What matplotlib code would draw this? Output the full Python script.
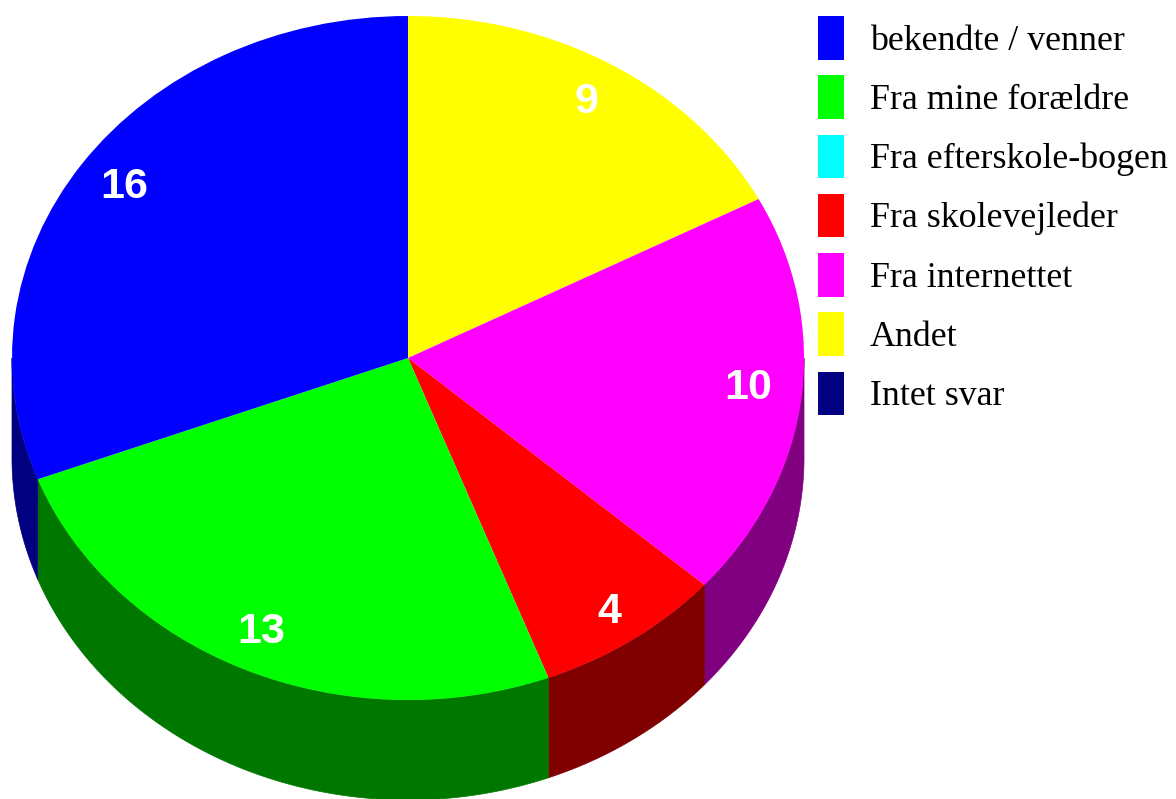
import numpy as np
import matplotlib
matplotlib.use('Agg')
import matplotlib.pyplot as plt
from matplotlib.patches import Patch

# order as the slices run clockwise from 12 o'clock
slice_names = ['Andet', 'Fra internettet', 'Fra skolevejleder', 'Fra efterskole-bogen',
               'Fra mine forældre', 'bekendte / venner', 'Intet svar']
slice_values = [9, 10, 4, 0, 13, 16, 0]
slice_colors = ['#ffff00', '#ff00ff', '#ff0000', '#00ffff', '#00ff00', '#0000ff', '#000080']
side_colors = ['#808000', '#800080', '#800000', '#008080', '#007800', '#000080', '#000040']

legend_names = ['bekendte / venner', 'Fra mine forældre', 'Fra efterskole-bogen',
                'Fra skolevejleder', 'Fra internettet', 'Andet', 'Intet svar']

# small nudges of the value labels, in pixels
label_nudge = [(-1, 0), (-4, 6), (4, -8), (0, 0), (-5, -1), (1, 1), (0, 0)]

W, H = 1176, 799
cx, cy = 408, 358
rx, ry = 396, 342
depth = 100 / ry

fig = plt.figure(figsize=(W / 100, H / 100), dpi=100)
ax = fig.add_axes([0, 0, 1, 1])

total = sum(slice_values)
edges = np.concatenate([[0], np.cumsum(slice_values)]) / total * 2 * np.pi

# side wall, only the front half (angle from top between 90 and 270 deg) shows
for i in range(len(slice_values)):
    a0 = max(edges[i], np.pi / 2)
    a1 = min(edges[i + 1], 3 * np.pi / 2)
    if a1 <= a0:
        continue
    t = np.linspace(a0, a1, 100)
    xs = np.sin(t)
    ys = np.cos(t)
    ax.fill(np.r_[xs, xs[::-1]], np.r_[ys, ys[::-1] - depth],
            color=side_colors[i], lw=0.5, zorder=1)

wedges, _ = ax.pie(slice_values, colors=slice_colors, startangle=90, counterclock=False,
                   radius=1, frame=True, wedgeprops={'linewidth': 0})
for w in wedges:
    w.set_zorder(2)

mids = (edges[:-1] + edges[1:]) / 2
for v, m, nudge in zip(slice_values, mids, label_nudge):
    if v == 0:
        continue
    ax.annotate(str(v), (0.875 * np.sin(m), 0.875 * np.cos(m)), xytext=nudge,
                textcoords='offset pixels', color='white', fontsize=31, fontweight='bold',
                family='Liberation Sans', ha='center', va='center', zorder=3)

# stretch the unit pie into the ellipse of the reference
ax.set_aspect('auto')
ax.set_xlim(-cx / rx, (W - cx) / rx)
ax.set_ylim((cy - H) / ry, cy / ry)
ax.axis('off')

fs = 25.8
px = fs * 100 / 72
handles = [Patch(facecolor=slice_colors[slice_names.index(n)], edgecolor='none') for n in legend_names]
ax.legend(handles, legend_names, loc='upper left', bbox_to_anchor=(818 / W, 1 - 16 / H),
          bbox_transform=fig.transFigure, frameon=False, borderaxespad=0, borderpad=0,
          prop={'family': 'Liberation Serif', 'size': fs},
          handlelength=26 / px, handleheight=41 / px + 0.35, labelspacing=(56.7 - 41) / px,
          handletextpad=26 / px)

fig.savefig('out.png', dpi=100, facecolor='white')
